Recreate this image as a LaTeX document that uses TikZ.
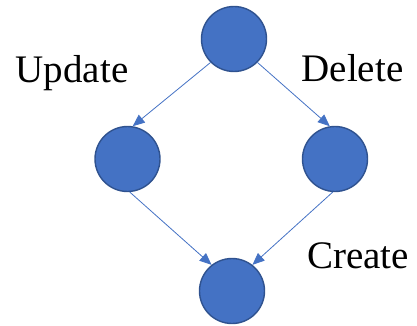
\documentclass[tikz,border=0pt]{standalone}
\usepackage{fontspec}
\setmainfont{Liberation Serif}
\usepackage{xcolor}
\usetikzlibrary{arrows.meta}
\definecolor{nodeblue}{HTML}{4472C4}
\definecolor{nodeedge}{HTML}{2F528F}

\begin{document}
\begin{tikzpicture}[
  x=1pt, y=-1pt,
  op/.style={circle, draw=nodeedge, line width=1.4pt, fill=nodeblue,
             minimum size=65pt, inner sep=0pt},
  lbl/.style={anchor=base, font=\fontsize{39}{42}\selectfont},
  link/.style={draw=nodeblue, line width=0.8pt,
               -{Triangle[length=12pt, width=10pt]}},
]
\useasboundingbox (0,0) rectangle (417,326);
\node[op] (root) at (234,39) {};
\node[op] (upd) at (127.5,159) {};
\node[op] (del) at (335,159) {};
\node[op] (crt) at (232,291) {};

\node[lbl] (updlbl) at (72,83) {Update};
\node[lbl] (dellbl) at (352.5,82) {Delete};
\node[lbl] (crtlbl) at (358,268) {Create};

\draw[link] (root.225) -- (upd.81);
\draw[link] (root.315) -- (del.99);
\draw[link] (upd.274) -- (crt.128);
\draw[link] (del.266) -- (crt.52);
\end{tikzpicture}
\end{document}
